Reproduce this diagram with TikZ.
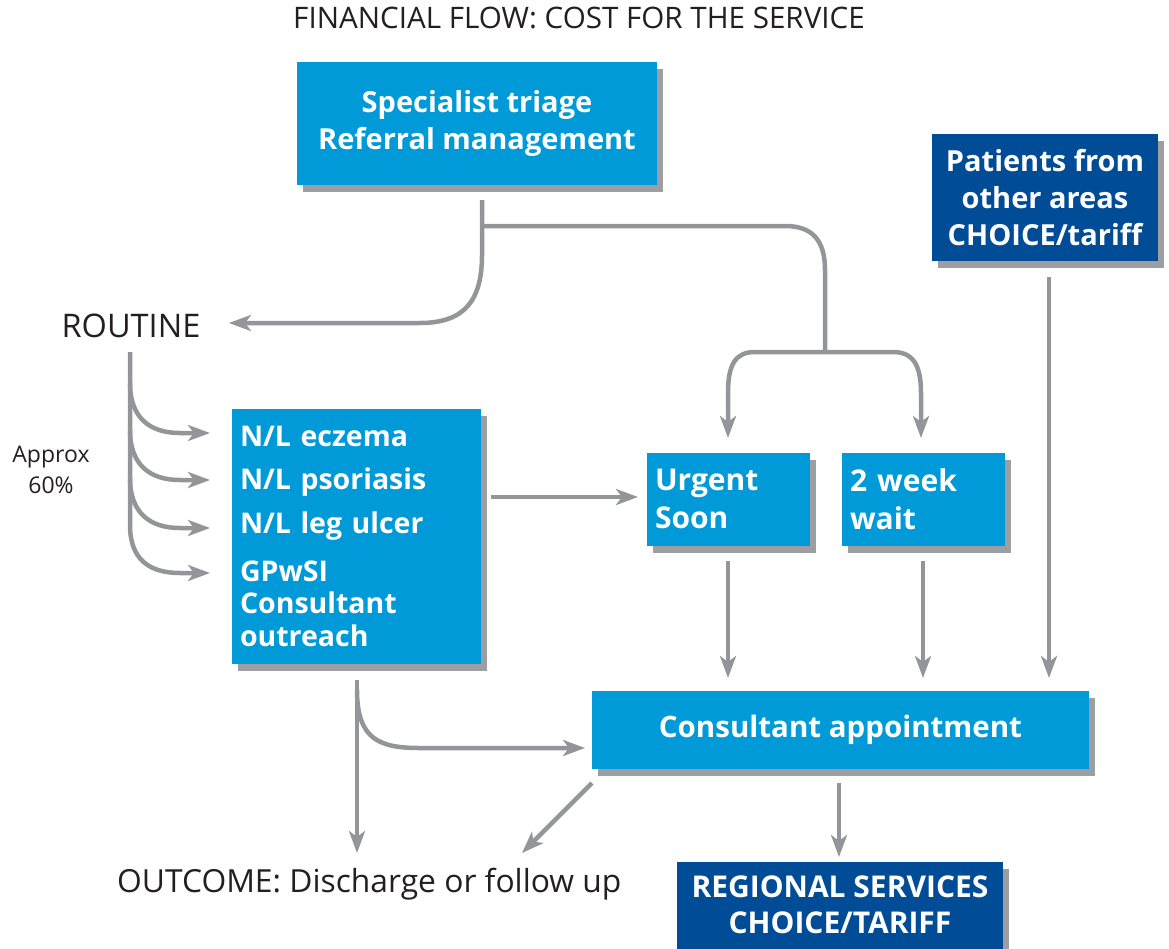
\documentclass[tikz,border=0pt]{standalone}
\usepackage{fontspec}
\setmainfont{Open Sans}
\usetikzlibrary{arrows.meta,shadows}
\definecolor{lblue}{HTML}{009AD8}
\definecolor{dblue}{HTML}{004C97}
\definecolor{shgray}{HTML}{9C9EA1}
\definecolor{lngray}{HTML}{939598}
\definecolor{txt}{HTML}{231F20}
\tikzset{
  box/.style={fill=#1, draw=none, text=white, inner sep=0pt,
    font=\bfseries\fontsize{29}{37}\selectfont,
    general shadow={fill=shgray, shadow xshift=6pt, shadow yshift=-7pt}},
  arr/.style={draw=lngray, line width=4.5pt, -{Stealth[length=22pt,width=16pt,inset=6pt]}},
  ln/.style={draw=lngray, line width=4.5pt},
  plain/.style={text=txt, inner sep=0pt}
}
\begin{document}
\begin{tikzpicture}[x=1pt,y=-1pt]
\useasboundingbox (0,0) rectangle (1169,948);
% title
\node[plain, anchor=base, font=\fontsize{29.6}{34}\selectfont] (title) at (579,28) {FINANCIAL FLOW: COST FOR THE SERVICE};
% boxes
\node[box=lblue, minimum width=360pt, minimum height=123pt, align=center] (tri) at (477,123.5) {Specialist triage\\Referral management};
\node[box=dblue, minimum width=226pt, minimum height=127pt, align=center] (pat) at (1045,197.5) {Patients from\\other areas\\CHOICE/tariff};
\node[box=lblue, minimum width=249pt, minimum height=255pt, text width=233pt, inner xsep=8pt, align=left,
  font=\bfseries\fontsize{28.5}{32.5}\selectfont] (nl) at (356.5,536.5)
  {N/L eczema\\[10.5pt]N/L psoriasis\\[11pt]N/L leg ulcer\\[15.5pt]GPwSI\\Consultant\\outreach};
\node[box=lblue, minimum width=163pt, minimum height=93pt, text width=147pt, inner xsep=8pt, align=left,
  font=\bfseries\fontsize{30}{38}\selectfont] (urg) at (728.5,499) {Urgent\\Soon};
\node[box=lblue, minimum width=163pt, minimum height=93pt, text width=147pt, inner xsep=8pt, align=left,
  font=\bfseries\fontsize{30}{38}\selectfont] (wk) at (923.5,499) {2 week\\wait};
\node[box=lblue, minimum width=497pt, minimum height=78pt, font=\bfseries\fontsize{29.5}{36}\selectfont] (con) at (840.5,730) {Consultant appointment};
\node[box=dblue, minimum width=326pt, minimum height=87pt, align=center,
  font=\bfseries\fontsize{30}{36}\selectfont] (reg) at (840,905) {REGIONAL SERVICES\\CHOICE/TARIFF};
% plain labels
\node[plain, anchor=base, font=\fontsize{32.5}{38}\selectfont] (routine) at (131,337) {ROUTINE};
\node[plain, anchor=base, align=center, font=\fontsize{23}{31}\selectfont] (approx) at (51,493) {Approx\\60\%};
\node[plain, anchor=base west, font=\fontsize{31.8}{36}\selectfont] (outcome) at (117,892) {OUTCOME: Discharge or follow up};
% coordinates
\coordinate (triout) at (482,200);
\coordinate (split) at (482,226);
\coordinate (rtip) at (229,323);
\coordinate (fork) at (825,352);
\coordinate (urgin) at (728,438);
\coordinate (wkin) at (921,438);
\coordinate (rtop) at (130,352);
\coordinate (nlb) at (357,680);
\coordinate (outtip) at (357,853);
% connectors
\draw[arr] (triout) -- (482,255) .. controls (482,300) and (465,323) .. (420,323) -- (rtip);
\draw[ln] (split) -- (785,226) .. controls (812,226) and (825,240) .. (825,270) -- (fork);
\draw[arr] (fork) -- (755,352) .. controls (735,352) and (728,365) .. (728,393) -- (urgin);
\draw[arr] (fork) -- (893,352) .. controls (913,352) and (921,365) .. (921,393) -- (wkin);
\draw[arr] (rtop) -- (130,525) .. controls (130,560) and (150,573) .. (180,573) -- (210,573);
\foreach \yy in {433,480,528}{
  \draw[arr] (130,\yy-50) .. controls (130,\yy-15) and (150,\yy) .. (180,\yy) -- (210,\yy);
}
\draw[arr] (491,497) -- (638,497);
\draw[arr] (728,561) -- (728,678);
\draw[arr] (923,561) -- (923,678);
\draw[arr] (1049,277) -- (1049,678);
\draw[arr] (nlb) -- (outtip);
\draw[arr] (357,690) .. controls (357,740) and (380,748) .. (420,748) -- (585,748);
\draw[arr] (592,783) -- (522,853);
\draw[arr] (839,783) -- (839,857);
\end{tikzpicture}
\end{document}
